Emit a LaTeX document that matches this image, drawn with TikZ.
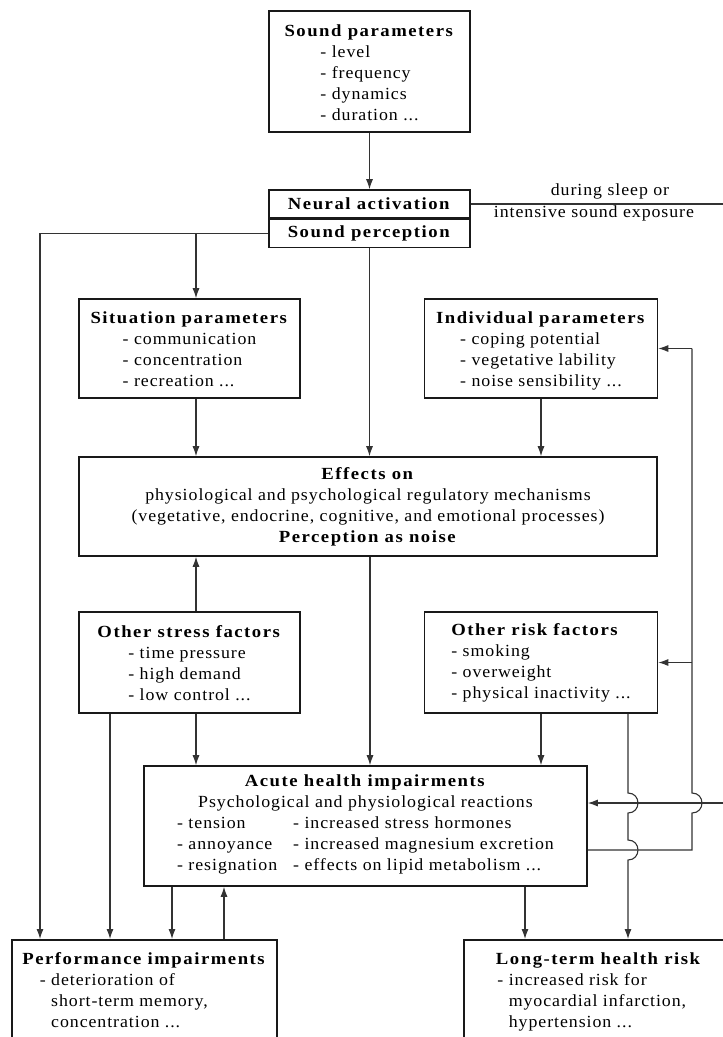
\documentclass[tikz,border=0pt]{standalone}
\usepackage{fontspec}
\setmainfont{Liberation Serif}[UprightFeatures={FakeStretch=1.05,LetterSpace=5.5},BoldFeatures={FakeStretch=1.1,LetterSpace=9}]
\usetikzlibrary{arrows.meta,positioning}

\tikzset{
  box/.style={draw=black!90, line width=1.6pt, inner sep=0pt, align=center},
  link/.style={draw=black!80, line width=1.1pt},
  arr/.style={link, -{Latex[length=10pt,width=7pt]}},
}

\begin{document}
\begin{tikzpicture}[x=1pt, y=-1pt, font=\fontsize{17}{21}\selectfont]
  \useasboundingbox (0,0) rectangle (723,1037);
  \clip (0,0) rectangle (723,1037);
  \coordinate (cA) at (40,0);
  \coordinate (cB) at (110,0);
  \coordinate (cC) at (172,0);
  \coordinate (cL) at (196,0);
  \coordinate (cD) at (224,0);
  \coordinate (cM) at (370,0);
  \coordinate (cE) at (525,0);
  \coordinate (cR) at (628,0);
  \coordinate (cF) at (692,0);
  \coordinate (h2) at (0,850);
  \coordinate (rim1) at (723,204);
  \coordinate (rim2) at (723,803);

  \node[box, minimum width=201pt, minimum height=121pt] (snd) at (369.5,71.5)
    {\textbf{Sound parameters}\\
     \begin{tabular}[t]{@{}l@{}}- level\\- frequency\\- dynamics\\- duration ...\\[-8pt]\end{tabular}};
  \node[box, minimum width=201pt, minimum height=28pt] (neu) at (369.5,204) {\textbf{Neural activation}};
  \node[box, minimum width=201pt, minimum height=28pt, below=0pt of neu] (per) {\textbf{Sound perception}};
  \node[anchor=base] (slp) at (610,195) {during sleep or};
  \node[anchor=base] (exp) at (594,217) {intensive sound exposure};

  \node[box, minimum width=221pt, minimum height=99pt] (sit) at (189.5,348.5)
    {\textbf{Situation parameters}\\
     \begin{tabular}[t]{@{}l@{}}- communication\\- concentration\\- recreation ...\\[-8pt]\end{tabular}};
  \node[box, minimum width=233pt, minimum height=99pt] (ind) at (541,348.5)
    {\textbf{Individual parameters}\\
     \begin{tabular}[t]{@{}l@{}}- coping potential\\- vegetative lability\\- noise sensibility ...\\[-8pt]\end{tabular}};
  \node[box, minimum width=578pt, minimum height=99pt] (eff) at (368,506.5)
    {\textbf{Effects on}\\
     physiological and psychological regulatory mechanisms\\
     (vegetative, endocrine, cognitive, and emotional processes)\\
     \textbf{Perception as noise}};
  \node[box, minimum width=221pt, minimum height=101pt] (ost) at (189.5,662.5)
    {\textbf{Other stress factors}\\
     \begin{tabular}[t]{@{}l@{}}- time pressure\\- high demand\\- low control ...\\[-8pt]\end{tabular}};
  \node[box, minimum width=233pt, minimum height=101pt] (ork) at (541,662.5)
    {\begin{tabular}{@{}l@{}}\textbf{Other risk factors}\\- smoking\\- overweight\\- physical inactivity ...\end{tabular}};
  \node[box, minimum width=443pt, minimum height=120pt] (acu) at (365.5,826)
    {\textbf{Acute health impairments}\\
     Psychological and physiological reactions\\
     \begin{tabular}[t]{@{}l@{\hspace{16pt}}l@{}}
       - tension & - increased stress hormones\\
       - annoyance & - increased magnesium excretion\\
       - resignation & - effects on lipid metabolism ...
     \end{tabular}};
  \node[box, anchor=north west, minimum width=265pt, minimum height=106pt] (prf) at (11,939)
    {\textbf{Performance impairments}\\
     \begin{tabular}[t]{@{}l@{\hspace{41pt}}}- deterioration of\\\phantom{- }short-term memory,\\\phantom{- }concentration ...\end{tabular}};
  \node[box, anchor=north west, minimum width=270pt, minimum height=106pt] (ltr) at (463,939)
    {\textbf{Long-term health risk}\\
     \begin{tabular}[t]{@{}l@{\hspace{14pt}}}- increased risk for\\\phantom{- }myocardial infarction,\\\phantom{- }hypertension ...\end{tabular}};

  \draw[arr] (snd) -- (neu);
  \draw[link] (neu.east) -- (rim1);
  \draw[arr] (per.west) -| (prf.north -| cA);
  \draw[arr] (per.west -| cL) -- (sit.north -| cL);
  \draw[arr] (per.south) -- (per.south |- eff.north);
  \draw[arr] (sit.south -| cL) -- (eff.north -| cL);
  \draw[arr] (ind.south) -- (ind.south |- eff.north);
  \draw[arr] (ost.north -| cL) -- (eff.south -| cL);
  \draw[arr] (eff.south -| cM) -- (acu.north -| cM);
  \draw[arr] (ost.south -| cL) -- (acu.north -| cL);
  \draw[arr] (ork.south) -- (ork.south |- acu.north);
  \draw[arr] (ost.south -| cB) -- (prf.north -| cB);
  \draw[arr] (acu.south -| cC) -- (prf.north -| cC);
  \draw[arr] (prf.north -| cD) -- (acu.south -| cD);
  \draw[arr] (acu.south -| cE) -- (ltr.north -| cE);
  \draw[arr] (rim2) -- (acu.east |- rim2);
  \draw[arr] (ork.south -| cR) -- (628,793) .. controls (641.3,793) and (641.3,813) .. (628,813)
    -- (628,840) .. controls (641.3,840) and (641.3,860) .. (628,860) -- (ltr.north -| cR);
  \draw[link] (acu.east |- h2) -- (cF |- h2) -- (692,813) .. controls (705.3,813) and (705.3,793) .. (692,793)
    -- (cF |- ind.east);
  \draw[arr] (cF |- ind.east) -- (ind.east);
  \draw[arr] (cF |- ork.east) -- (ork.east);
\end{tikzpicture}
\end{document}
